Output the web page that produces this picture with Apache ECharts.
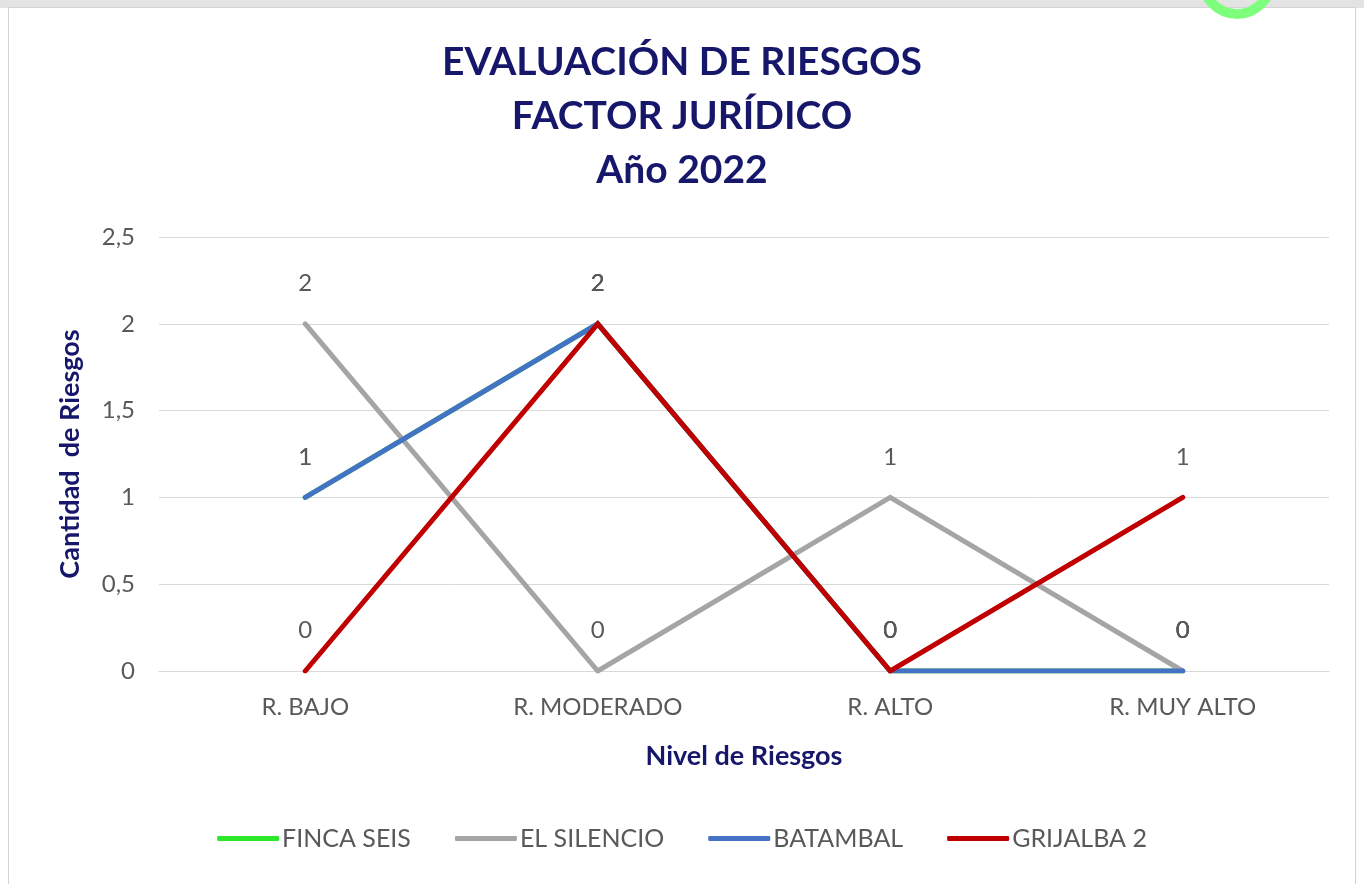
<!DOCTYPE html>
<html>
<head>
<meta charset="utf-8">
<script src="https://cdn.jsdelivr.net/npm/echarts@6/dist/echarts.min.js"></script>
<style>
html,body{margin:0;padding:0;background:#fff;}
#chart{width:1364px;height:884px;}
</style>
</head>
<body>
<div id="chart"></div>
<script>
const categories = ['R. BAJO', 'R. MODERADO', 'R. ALTO', 'R. MUY ALTO'];
const seriesNames = ['FINCA SEIS', 'EL SILENCIO', 'BATAMBAL', 'GRIJALBA 2'];
const fincaSeis = [1, 2, 0, 0];
const elSilencio = [2, 0, 1, 0];
const batambal = [1, 2, 0, 0];
const grijalba2 = [0, 2, 0, 1];
const colors = ['#2be82b', '#a5a5a5', '#4472c4', '#c00000'];
const titleLines = ['EVALUACIÓN DE RIESGOS', 'FACTOR JURÍDICO', 'Año 2022'];

const navy = '#16166b';
const gray = '#595959';
const font = 'Lato, "Open Sans", sans-serif';

const chart = echarts.init(document.getElementById('chart'));
const values = [fincaSeis, elSilencio, batambal, grijalba2];

chart.setOption({
  animation: false,
  textStyle: { fontFamily: font },
  title: {
    text: titleLines.join('\n'),
    left: 'center',
    top: 30,
    textStyle: { color: navy, fontSize: 39, fontWeight: 'bold', lineHeight: 54, fontFamily: font }
  },
  graphic: [
    { type: 'rect', shape: { x: 0, y: 0, width: 1364, height: 8 }, style: { fill: '#e3e3e3' }, z: 0 },
    { type: 'rect', shape: { x: 8.5, y: 7.5, width: 1347, height: 900 }, style: { fill: 'none', stroke: '#d4d4d4', lineWidth: 1 }, z: 1 },
    { type: 'arc', shape: { cx: 1237, cy: -20, r: 34, startAngle: 0, endAngle: Math.PI }, style: { stroke: '#7dff7d', lineWidth: 10, fill: 'none' }, z: 2 }
  ],
  legend: {
    bottom: 28,
    left: 'center',
    itemWidth: 62,
    itemHeight: 5,
    itemGap: 44,
    icon: 'roundRect',
    textStyle: { color: gray, fontSize: 25, padding: [0, 0, 0, -2], fontFamily: font },
    data: seriesNames
  },
  grid: { left: 159, right: 35, top: 237, bottom: 213 },
  xAxis: {
    type: 'category',
    data: categories,
    boundaryGap: true,
    name: 'Nivel de Riesgos',
    nameLocation: 'middle',
    nameGap: 72,
    nameTextStyle: { color: navy, fontSize: 27, fontWeight: 'bold', fontFamily: font },
    axisLine: { show: true, lineStyle: { color: '#d9d9d9', width: 1 } },
    axisTick: { show: false },
    axisLabel: { color: gray, fontSize: 24, margin: 24, fontFamily: font }
  },
  yAxis: {
    type: 'value',
    min: 0,
    max: 2.5,
    interval: 0.5,
    name: 'Cantidad  de Riesgos',
    nameLocation: 'middle',
    nameGap: 75,
    nameRotate: 90,
    nameTextStyle: { color: navy, fontSize: 27, fontWeight: 'bold', fontFamily: font },
    axisLine: { show: false },
    axisTick: { show: false },
    axisLabel: {
      color: gray, fontSize: 24, margin: 24, fontFamily: font,
      formatter: v => String(v).replace('.', ',')
    },
    splitLine: { lineStyle: { color: '#d9d9d9', width: 1 } }
  },
  series: seriesNames.map((name, i) => ({
    name,
    type: 'line',
    data: values[i],
    symbol: 'circle',
    symbolSize: 1,
    showSymbol: true,
    lineStyle: { width: 5, color: colors[i], cap: 'round', join: 'miter' },
    itemStyle: { color: colors[i] },
    z: 2 + i,
    label: {
      show: true,
      position: 'top',
      distance: 28,
      color: gray,
      fontSize: 24,
      fontFamily: font
    }
  }))
});
</script>
</body>
</html>
